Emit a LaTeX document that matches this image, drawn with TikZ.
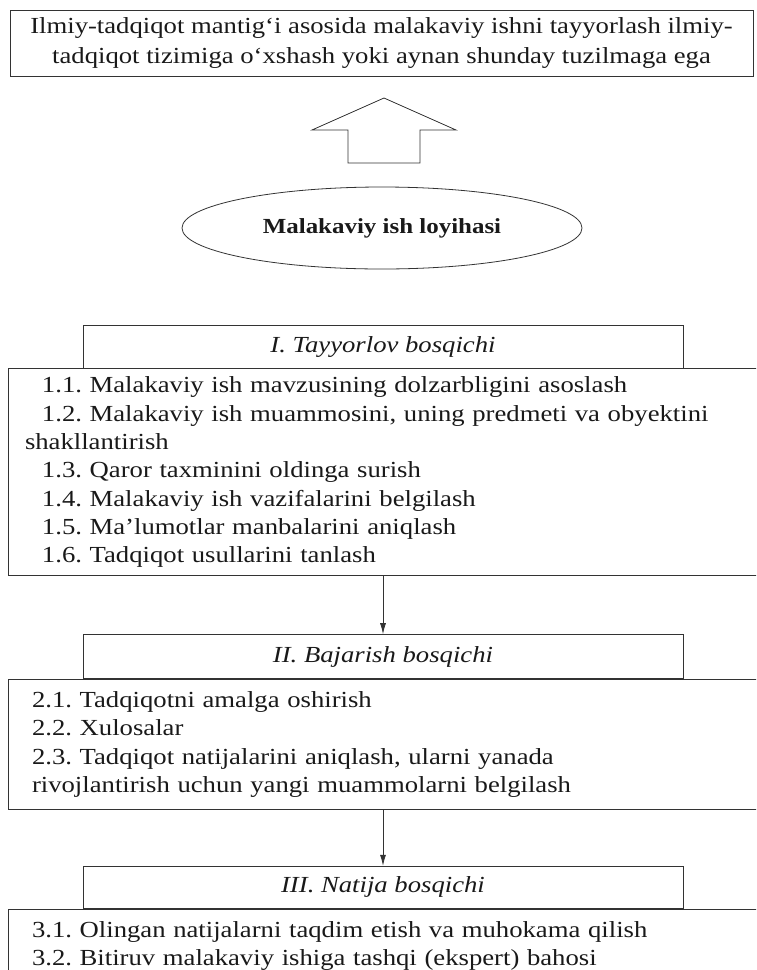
\documentclass[tikz,border=0pt]{standalone}
\usepackage{fontspec}
\setmainfont{Liberation Serif}[FakeStretch=1.16]
\usetikzlibrary{positioning, arrows.meta, shapes.geometric}
\frenchspacing
\tikzset{
	x=1pt, y=-1pt, % one unit is one pixel of the page, y runs downwards
	every node/.style={text=black!90},
	outline/.style={draw=black!80, line width=0.8pt}, % thin grey frame lines
	goalbox/.style={outline, rectangle, minimum width=743pt, minimum height=66pt, inner sep=0pt, align=center, font=\fontsize{23}{30}\selectfont}, % the box on top
	projell/.style={outline, ellipse, minimum width=400pt, minimum height=82pt, inner sep=0pt, font=\fontsize{21.5}{26}\selectfont\bfseries}, % the project ellipse
	stagehead/.style={outline, rectangle, minimum width=600pt, minimum height=43pt, inner sep=0pt, font=\fontsize{23}{28}\selectfont\itshape}, % title of a stage
	stagebody/.style={outline, rectangle, anchor=north west, align=left, inner ysep=0pt, inner xsep=24pt, text width=709pt, font=\fontsize{23}{28.3}\selectfont}, % list of a stage
	flow/.style={outline, -{Latex[length=11pt, width=6pt]}}, % arrow between the stages
}
\newcommand{\itemind}{\hspace*{17pt}}

\begin{document}
\begin{tikzpicture}
	\useasboundingbox (0,0) rectangle (756,970);
	\clip (0,0) rectangle (756,970);

	\node[goalbox] (goal) at (381.5,43) {Ilmiy-tadqiqot mantig‘i asosida malakaviy ishni tayyorlash ilmiy-\\tadqiqot tizimiga o‘xshash yoki aynan shunday tuzilmaga ega};
	\draw[outline] (348,163) -- (348,130) -- (312,130) -- (384,98) -- (456,130) -- (420,130) -- (420,163) -- cycle;
	\node[projell] (proj) at (382,228) {Malakaviy ish loyihasi};

	\node[stagehead] (h1) at (383,346.5) {I. Tayyorlov bosqichi};
	\node[stagebody, inner xsep=17pt, text width=723pt, minimum height=207pt] (b1) at ([xshift=-75pt]h1.south west) {%
		\itemind 1.1. Malakaviy ish mavzusining dolzarbligini asoslash\\
		\itemind 1.2. Malakaviy ish muammosini, uning predmeti va obyektini\\
		shakllantirish\\
		\itemind 1.3. Qaror taxminini oldinga surish\\
		\itemind 1.4. Malakaviy ish vazifalarini belgilash\\
		\itemind 1.5. Ma’lumotlar manbalarini aniqlash\\
		\itemind 1.6. Tadqiqot usullarini tanlash};
	\coordinate (c1) at (h1 |- b1.south);

	\node[stagehead, below=58pt of c1, minimum height=44pt] (h2) {II. Bajarish bosqichi};
	\node[stagebody, minimum height=130pt] (b2) at ([xshift=-75pt]h2.south west) {%
		2.1. Tadqiqotni amalga oshirish\\
		2.2. Xulosalar\\
		2.3. Tadqiqot natijalarini aniqlash, ularni yanada\\
		rivojlantirish uchun yangi muammolarni belgilash};
	\coordinate (c2) at (h2 |- b2.south);

	\node[stagehead, below=56pt of c2, minimum height=42pt] (h3) {III. Natija bosqichi};
	\node[stagebody, minimum height=74pt] (b3) at ([xshift=-75pt]h3.south west) {%
		3.1. Olingan natijalarni taqdim etish va muhokama qilish\\
		3.2. Bitiruv malakaviy ishiga tashqi (ekspert) bahosi};

	\draw[flow] (c1) -- (h2);
	\draw[flow] (c2) -- (h3);
\end{tikzpicture}
\end{document}
